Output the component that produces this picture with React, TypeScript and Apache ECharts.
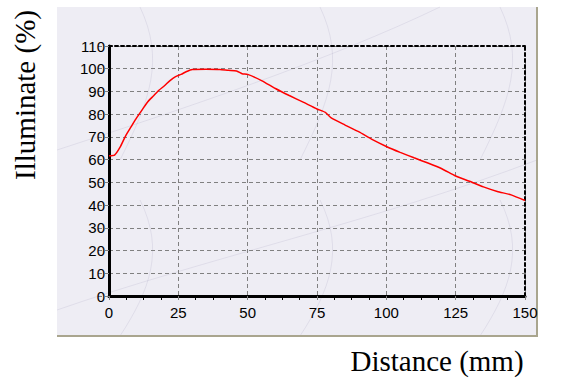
import React, { useEffect, useRef } from "react";
import * as echarts from "echarts";

const distance = [0, 2, 4, 6, 8, 10, 12, 14, 16, 18, 20, 22, 24, 26, 28, 30, 35, 40, 43, 46, 48, 50, 55, 60, 65, 70, 75, 78, 80, 85, 90, 95, 100, 105, 110, 115, 120, 125, 130, 135, 140, 145, 150];
const illumination = [61.7, 62, 65.5, 70.5, 74.5, 78.5, 82, 85.5, 88, 90.5, 92.5, 94.8, 96.5, 97.5, 98.8, 99.7, 99.8, 99.7, 99.3, 99, 97.8, 97.5, 94.8, 91.3, 88.2, 85.3, 82.3, 80.8, 78.5, 75.3, 72.3, 68.8, 65.8, 63.2, 60.8, 58.5, 56, 52.8, 50.5, 48, 46, 44.5, 42];
const xTitle = "Distance (mm)";
const yTitle = "Illuminate (%)";

export default function App() {
  const ref = useRef<HTMLDivElement>(null);
  useEffect(() => {
    if (!ref.current) return;
    const chart = echarts.init(ref.current, null, { renderer: "svg" });
    const data = distance.map((d, i) => [d, illumination[i]]);
    const tickFont = { color: "#000", fontSize: 15, fontFamily: "Liberation Sans, Arial, sans-serif" };
    const veins = "rgba(140,135,175,0.16)";
    const vein = (x1: number, y1: number, cpx1: number, cpy1: number, cpx2: number, cpy2: number, x2: number, y2: number) => ({
      type: "bezierCurve", z: -9, silent: true,
      shape: { x1, y1, cpx1, cpy1, cpx2, cpy2, x2, y2 },
      style: { stroke: veins, lineWidth: 1, fill: null },
    });
    chart.setOption({
      animation: false,
      backgroundColor: "#ffffff",
      graphic: [
        { type: "rect", z: -10, shape: { x: 57, y: 7, width: 480, height: 329 }, style: { fill: "#eeedf4" } },
        vein(57, 150, 180, 110, 330, 60, 440, 7),
        vein(57, 310, 200, 260, 380, 220, 537, 160),
        vein(140, 7, 165, 60, 150, 100, 120, 160),
        vein(320, 7, 345, 60, 330, 100, 300, 160),
        vein(500, 7, 525, 60, 510, 100, 480, 160),
        vein(140, 200, 165, 250, 150, 290, 120, 336),
        vein(320, 200, 345, 250, 330, 290, 300, 336),
        vein(500, 200, 525, 250, 510, 290, 480, 336),
        { type: "line", z: -8, shape: { x1: 537, y1: 7, x2: 537, y2: 337 }, style: { stroke: "#a9a58e", lineWidth: 2 } },
        { type: "line", z: -8, shape: { x1: 57, y1: 336, x2: 538, y2: 336 }, style: { stroke: "#a9a58e", lineWidth: 2 } },
        {
          type: "text", x: 437, y: 361,
          style: { text: xTitle, fill: "#000", fontSize: 29, fontFamily: "Liberation Serif, Times New Roman, serif", textAlign: "center", textVerticalAlign: "middle" },
        },
        {
          type: "text", x: 25, y: 95, rotation: Math.PI / 2,
          style: { text: yTitle, fill: "#000", fontSize: 29, fontFamily: "Liberation Serif, Times New Roman, serif", textAlign: "center", textVerticalAlign: "middle" },
        },
      ],
      grid: { left: 109, top: 46, right: 44, bottom: 91, show: false },
      xAxis: [
        {
          type: "value", min: 0, max: 150, interval: 25, position: "bottom",
          axisLine: { show: true, onZero: false, lineStyle: { color: "#000", width: 3 } },
          axisTick: { show: true, length: 5, lineStyle: { color: "#808080", type: "dashed" } },
          minorTick: { show: true, splitNumber: 4, length: 4, lineStyle: { color: "#000", width: 1 } },
          axisLabel: { ...tickFont, margin: 9 },
          splitLine: { show: true, lineStyle: { color: "#808080", type: [4, 3], width: 1 } },
        },
        {
          type: "value", min: 0, max: 150, interval: 25, position: "top",
          axisLine: { show: true, onZero: false, lineStyle: { color: "#000", width: 2, type: [3, 3] } },
          axisTick: { show: false }, axisLabel: { show: false }, splitLine: { show: false },
        },
      ],
      yAxis: [
        {
          type: "value", min: 0, max: 110, interval: 10, position: "left",
          axisLine: { show: true, onZero: false, lineStyle: { color: "#000", width: 3 } },
          axisTick: { show: true, length: 12, lineStyle: { color: "#808080", type: [4, 3] } },
          axisLabel: { ...tickFont, margin: 4 },
          splitLine: { show: true, lineStyle: { color: "#808080", type: [4, 3], width: 1 } },
        },
        {
          type: "value", min: 0, max: 110, interval: 10, position: "right",
          axisLine: { show: true, onZero: false, lineStyle: { color: "#000", width: 2, type: [3, 3] } },
          axisTick: { show: false }, axisLabel: { show: false }, splitLine: { show: false },
        },
      ],
      series: [
        {
          type: "line", data, xAxisIndex: 0, yAxisIndex: 0, showSymbol: false, smooth: 0.2,
          lineStyle: { color: "#ff0000", width: 1.5 }, z: 5,
        },
      ],
    });
    return () => chart.dispose();
  }, []);
  return <div ref={ref} style={{ position: "fixed", left: 0, top: 0, width: 569, height: 387 }} />;
}
